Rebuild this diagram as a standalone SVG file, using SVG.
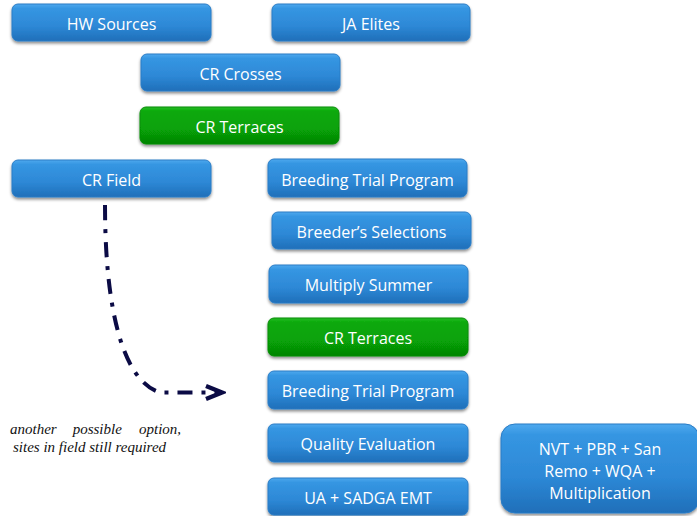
<svg xmlns="http://www.w3.org/2000/svg" width="697" height="516" viewBox="0 0 697 516">
<defs>
<linearGradient id="gb" x1="0" y1="0" x2="0" y2="1">
<stop offset="0" stop-color="#4ea9ee"/>
<stop offset="0.12" stop-color="#3596e2"/>
<stop offset="0.6" stop-color="#2d88d6"/>
<stop offset="1" stop-color="#1f6fb9"/>
</linearGradient>
<linearGradient id="gg" x1="0" y1="0" x2="0" y2="1">
<stop offset="0" stop-color="#25bd25"/>
<stop offset="0.12" stop-color="#0ba90b"/>
<stop offset="0.6" stop-color="#07a207"/>
<stop offset="1" stop-color="#058405"/>
</linearGradient>
<filter id="sh" x="-10%" y="-20%" width="120%" height="150%">
<feDropShadow dx="0" dy="2" stdDeviation="1.6" flood-color="#000" flood-opacity="0.45"/>
</filter>
<marker id="chev" markerUnits="userSpaceOnUse" viewBox="-2 -2 22 18" markerWidth="22" markerHeight="18" refX="16" refY="6.5" orient="auto">
<path d="M0,0 L16,6.5 L0,13" fill="none" stroke="#0b0b45" stroke-width="4.2"/>
</marker>
</defs>
<style>
.b{fill:url(#gb);stroke:#2a7cc6;stroke-width:1;filter:url(#sh)}
.g{fill:url(#gg);stroke:#078c07;stroke-width:1;filter:url(#sh)}
.t{font-family:"Open Sans","Noto Sans","DejaVu Sans",sans-serif;font-size:16px;fill:#fff;text-anchor:middle}
.n{font-family:"Liberation Serif","Times New Roman",serif;font-style:italic;font-size:15px;fill:#111}
.c{fill:none;stroke:#0b0b45;stroke-width:4;stroke-dasharray:15 9 4 9}
</style>
<g id="hw-sources"><rect class="b" x="12" y="4" width="199" height="37" rx="6"/><text class="t" x="111.5" y="29.5">HW Sources</text></g>
<g id="ja-elites"><rect class="b" x="272" y="4" width="198" height="37" rx="6"/><text class="t" x="371" y="29.5">JA Elites</text></g>
<g id="cr-crosses"><rect class="b" x="141" y="54" width="199" height="37" rx="6"/><text class="t" x="240.5" y="79.5">CR Crosses</text></g>
<g id="cr-terraces-1"><rect class="g" x="140" y="107" width="199" height="37" rx="6"/><text class="t" x="239.5" y="132.5">CR Terraces</text></g>
<g id="cr-field"><rect class="b" x="12" y="160" width="199" height="37" rx="6"/><text class="t" x="111.5" y="185.5">CR Field</text></g>
<g id="breeding-trial-1"><rect class="b" x="268" y="159" width="199" height="38" rx="6"/><text class="t" x="367.5" y="185.5">Breeding Trial Program</text></g>
<g id="breeders-selections"><rect class="b" x="272" y="212" width="199" height="37" rx="6"/><text class="t" x="371.5" y="238">Breeder’s Selections</text></g>
<g id="multiply-summer"><rect class="b" x="269" y="265" width="199" height="38" rx="6"/><text class="t" x="368.5" y="291">Multiply Summer</text></g>
<g id="cr-terraces-2"><rect class="g" x="268" y="318" width="200" height="38" rx="6"/><text class="t" x="368" y="344">CR Terraces</text></g>
<g id="breeding-trial-2"><rect class="b" x="268" y="371" width="200" height="38" rx="6"/><text class="t" x="368" y="397">Breeding Trial Program</text></g>
<g id="quality-evaluation"><rect class="b" x="268" y="424" width="200" height="38" rx="6"/><text class="t" x="368" y="449.5">Quality Evaluation</text></g>
<g id="ua-sadga"><rect class="b" x="268" y="478" width="200" height="37" rx="6"/><text class="t" x="368" y="503.5">UA + SADGA EMT</text></g>
<g id="nvt"><rect class="b" x="501" y="424" width="198" height="89" rx="14"/>
<text class="t" x="600" y="454.5">NVT + PBR + San</text>
<text class="t" x="600" y="476.5">Remo + WQA +</text>
<text class="t" x="600" y="498.5">Multiplication</text></g>
<g id="connectors">
<path class="c" d="M105,205 C105,300 120,380 160,392.5 L222,392.5" marker-end="url(#chev)"/>
</g>
<g id="note">
<text class="n" y="434"><tspan x="10">another</tspan><tspan x="72.7">possible</tspan><tspan x="139">option,</tspan></text>
<text class="n" x="13" y="452">sites in field still required</text>
</g>
</svg>
